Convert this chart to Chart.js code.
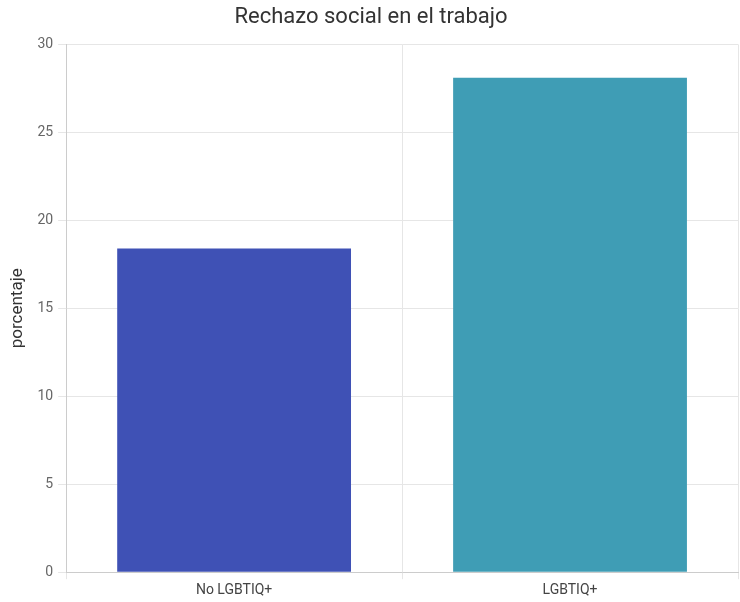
<!DOCTYPE html>
<html>
<head>
<meta charset="utf-8">
<script src="https://cdn.jsdelivr.net/npm/chart.js@4"></script>
<style>
  body { margin: 0; background: #fff; }
  #wrap { position: relative; width: 740px; height: 602px; }
</style>
</head>
<body>
<div id="wrap"><canvas id="myChart"></canvas></div>
<script>
const categories = ['No LGBTIQ+', 'LGBTIQ+'];
const values = [18.4, 28.1];
const barColors = ['#3F51B5', '#3F9DB5'];
const yTicks = [0, 5, 10, 15, 20, 25, 30];

Chart.defaults.font.family = 'Roboto';

const ctx = document.getElementById('myChart').getContext('2d');
new Chart(ctx, {
  type: 'bar',
  data: {
    labels: categories,
    datasets: [{
      label: 'porcentaje',
      data: values,
      backgroundColor: barColors,
      borderWidth: 0,
      barPercentage: 0.87,
      categoryPercentage: 0.8,
    }],
  },
  options: {
    responsive: true,
    maintainAspectRatio: false,
    animation: false,
    layout: { padding: { left: 4, right: 2, top: 0, bottom: 0 } },
    plugins: {
      legend: { display: false },
      tooltip: { enabled: false },
      title: {
        display: true,
        text: 'Rechazo social en el trabajo',
        color: '#333',
        font: { size: 22, weight: 'normal' },
        padding: { top: 4, bottom: 14 },
      },
    },
    scales: {
      y: {
        min: 0,
        max: 30,
        afterBuildTicks: (axis) => { axis.ticks = yTicks.map((v) => ({ value: v })); },
        title: {
          display: true,
          text: 'porcentaje',
          color: '#333',
          font: { size: 17 },
          padding: { bottom: 4 },
        },
        ticks: { color: '#666', font: { size: 14 }, padding: 5 },
        grid: { color: '#e6e6e6', tickLength: 8 },
        border: { color: '#ccc' },
      },
      x: {
        ticks: { color: '#444', font: { size: 14 }, padding: 3 },
        grid: { color: '#e6e6e6', tickLength: 7 },
        border: { color: '#ccc' },
      },
    },
  },
});
</script>
</body>
</html>
